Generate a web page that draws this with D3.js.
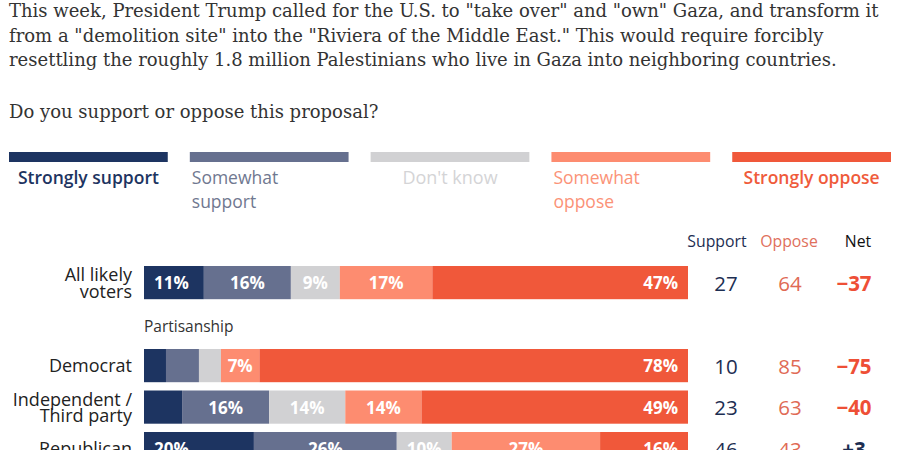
<!DOCTYPE html>
<html>
<head>
<meta charset="utf-8">
<script src="https://cdn.jsdelivr.net/npm/d3@7"></script>
<style>
  html, body { margin: 0; padding: 0; background: #fff; }
  svg { display: block; }
</style>
</head>
<body>
<svg id="chart" width="900" height="450"></svg>
<script>
// ---- Data ----
const introLines = [
  'This week, President Trump called for the U.S. to "take over" and "own" Gaza, and transform it',
  'from a "demolition site" into the "Riviera of the Middle East." This would require forcibly',
  'resettling the roughly 1.8 million Palestinians who live in Gaza into neighboring countries.'
];
const question = "Do you support or oppose this proposal?";
const categories = ["Strongly support", "Somewhat support", "Don't know", "Somewhat oppose", "Strongly oppose"];
const rowNames = ["All likely voters", "Democrat", "Independent / Third party", "Republican"];
const strongSupport = [11, 4, 7, 20];
const someSupport   = [16, 6, 16, 26];
const dontKnow      = [9, 4, 14, 10];
const someOppose    = [17, 7, 14, 27];
const strongOppose  = [47, 78, 49, 16];
const supportTotal  = [27, 10, 23, 46];
const opposeTotal   = [64, 85, 63, 43];
const netValues     = [-37, -75, -40, 3];
const groupLabel = "Partisanship";
const columnHeaders = ["Support", "Oppose", "Net"];

// ---- Styles / layout ----
const colors = ["#1d3461", "#66708f", "#d1d1d3", "#fd8c70", "#f0583a"];
const legendText = ["#1d3461", "#707890", "#d4d4d6", "#fb9277", "#ef5b3b"];
const rowLabelLines = {
  "All likely voters": ["All likely", "voters"],
  "Democrat": ["Democrat"],
  "Independent / Third party": ["Independent /", "Third party"],
  "Republican": ["Republican"]
};
const sans = "'Open Sans', Lato, sans-serif";
const serif = "'DejaVu Serif', serif";

const svg = d3.select("#chart");

// Intro text
introLines.forEach((t, i) => {
  svg.append("text").attr("x", 9).attr("y", 17 + i * 24.5)
    .attr("font-family", serif).attr("font-size", 18).attr("fill", "#333")
    .text(t);
});
svg.append("text").attr("x", 9).attr("y", 118)
  .attr("font-family", serif).attr("font-size", 18).attr("fill", "#333")
  .text(question);

// Legend
const legendX = d3.scaleBand().domain(categories).range([9, 891]).paddingInner(0.122);
const legend = svg.append("g");
categories.forEach((c, i) => {
  const x0 = legendX(c), w = legendX.bandwidth();
  legend.append("rect").attr("x", x0).attr("y", 152).attr("width", w).attr("height", 10).attr("fill", colors[i]);
  const words = c.split(" ");
  const twoLine = c.startsWith("Somewhat");
  const bold = c.startsWith("Strongly");
  if (twoLine) {
    words.forEach((wd, j) => {
      legend.append("text").attr("x", x0 + 2).attr("y", 184 + j * 24)
        .attr("font-family", sans).attr("font-size", 17.5).attr("font-weight", 400)
        .attr("fill", legendText[i]).text(wd);
    });
  } else {
    legend.append("text").attr("x", x0 + w / 2).attr("y", 184).attr("text-anchor", "middle")
      .attr("font-family", sans).attr("font-size", bold ? 17.5 : 18).attr("font-weight", bold ? 600 : 400)
      .attr("fill", legendText[i]).text(c);
  }
});

// Rows
const yDomain = ["All likely voters", "__gap", "Democrat", "Independent / Third party", "Republican"];
const step = 41.5;
const y = d3.scaleBand().domain(yDomain).range([266, 266 + step * (yDomain.length - 0.2)]).paddingInner(0.2).paddingOuter(0);
const bh = y.bandwidth();

const rows = rowNames.map((name, i) => ({
  name,
  values: [strongSupport[i], someSupport[i], dontKnow[i], someOppose[i], strongOppose[i]],
  support: supportTotal[i], oppose: opposeTotal[i], net: netValues[i]
}));

const barG = svg.append("g");
rows.forEach(r => {
  const total = d3.sum(r.values);
  const x = d3.scaleLinear().domain([0, total]).range([144, 688]);
  const y0 = y(r.name);
  const cy = y0 + bh / 2;
  let acc = 0;
  r.values.forEach((v, j) => {
    const xs = x(acc), xe = x(acc + v);
    acc += v;
    barG.append("rect").attr("x", xs).attr("y", y0).attr("width", xe - xs).attr("height", bh).attr("fill", colors[j]);
    const w = xe - xs;
    let tx, anchor;
    if (j === 0) { tx = xs + 10; anchor = "start"; }
    else if (j === 4) { tx = xe - 10; anchor = "end"; }
    else { tx = (xs + xe) / 2; anchor = "middle"; }
    const t = barG.append("text").attr("x", tx).attr("y", cy + 6.5).attr("text-anchor", anchor)
      .attr("font-family", sans).attr("font-size", 17).attr("font-weight", 700)
      .attr("fill", "#fff").text(v + "%");
    const tw = t.node().getComputedTextLength();
    const need = (j === 0 || j === 4) ? tw + 20 : tw + 10;
    if (w < need) t.remove();
  });
  // Row label
  const lines = rowLabelLines[r.name];
  lines.forEach((ln, k) => {
    const by = lines.length === 1 ? cy + 6.5 : cy - 1.5 + k * 16.5;
    barG.append("text").attr("x", 132).attr("y", by).attr("text-anchor", "end")
      .attr("font-family", sans).attr("font-size", 18).attr("fill", "#222").text(ln);
  });
  // Totals
  barG.append("text").attr("x", 726).attr("y", cy + 8).attr("text-anchor", "middle")
    .attr("font-family", sans).attr("font-size", 20.5).attr("fill", "#1d2e52").text(r.support);
  barG.append("text").attr("x", 790).attr("y", cy + 8).attr("text-anchor", "middle")
    .attr("font-family", sans).attr("font-size", 20.5).attr("fill", "#e06a55").text(r.oppose);
  barG.append("text").attr("x", 854).attr("y", cy + 8).attr("text-anchor", "middle")
    .attr("font-family", sans).attr("font-size", 20.5).attr("font-weight", 700)
    .attr("fill", r.net < 0 ? "#ee4f36" : "#1d2e52")
    .text(r.net < 0 ? "\u2212" + Math.abs(r.net) : "+" + r.net);
});

// Column headers
const headerX = [717, 789, 858];
const headerColor = ["#1d2e52", "#e0705c", "#111"];
columnHeaders.forEach((h, i) => {
  svg.append("text").attr("x", headerX[i]).attr("y", 247).attr("text-anchor", "middle")
    .attr("font-family", sans).attr("font-size", 15.8).attr("fill", headerColor[i]).text(h);
});

// Group label
svg.append("text").attr("x", 144).attr("y", 332)
  .attr("font-family", sans).attr("font-size", 15.5).attr("fill", "#333").text(groupLabel);
</script>
</body>
</html>
